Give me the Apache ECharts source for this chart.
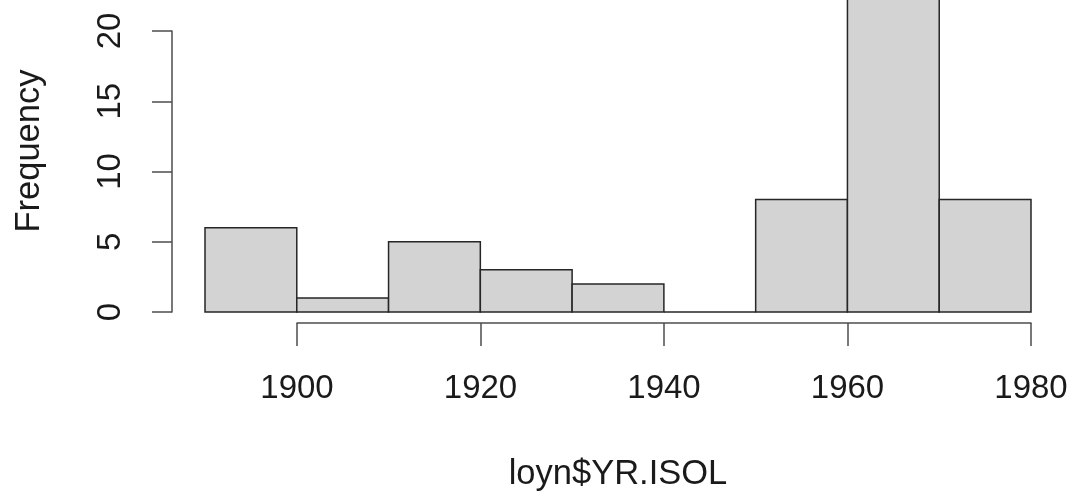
<!DOCTYPE html>
<html>
<head>
<meta charset="utf-8">
<title>loyn$YR.ISOL</title>
<script src="https://cdn.jsdelivr.net/npm/echarts@6/dist/echarts.min.js"></script>
<style>
  html, body { margin: 0; padding: 0; background: #fff; }
  #chart { width: 1076px; height: 497px; }
</style>
</head>
<body>
<div id="chart"></div>
<script>
  // histogram bins (10 year breaks) and their counts
  const binStart = [1890, 1900, 1910, 1920, 1930, 1940, 1950, 1960, 1970]
  const binEnd = [1900, 1910, 1920, 1930, 1940, 1950, 1960, 1970, 1980]
  const counts = [6, 1, 5, 3, 2, 0, 8, 23, 8]
  const xTicks = [1900, 1920, 1940, 1960, 1980]
  const yTicks = [0, 5, 10, 15, 20]

  const font = 'Liberation Sans, Arial, sans-serif'
  const textColor = '#1a1a1a'
  const axisColor = '#4d4d4d'

  let myChart = echarts.init(document.getElementById('chart'))
  let option = {
    animation: false,
    grid: [
      // bars
      { left: 205, right: 45, top: 31, bottom: 185 },
      // R-style axes, drawn only over the tick range
      { left: 297, right: 45, top: 31, bottom: 185 }
    ],
    xAxis: [
      { gridIndex: 0, type: 'value', min: 1890, max: 1980, show: false },
      {
        gridIndex: 1,
        type: 'value',
        min: xTicks[0],
        max: xTicks[xTicks.length - 1],
        interval: 20,
        offset: 11,
        axisLine: { show: true, onZero: false, lineStyle: { color: axisColor, width: 1.5 } },
        axisTick: { show: true, length: 23, lineStyle: { color: axisColor, width: 1.5 } },
        splitLine: { show: false },
        axisLabel: {
          color: textColor,
          fontSize: 33,
          fontFamily: font,
          margin: 49,
          formatter: (v) => String(v)
        }
      }
    ],
    yAxis: [
      { gridIndex: 0, type: 'value', min: 0, max: 20, show: false },
      {
        gridIndex: 1,
        type: 'value',
        min: yTicks[0],
        max: yTicks[yTicks.length - 1],
        interval: 5,
        offset: 125,
        axisLine: { show: true, onZero: false, lineStyle: { color: axisColor, width: 1.5 } },
        axisTick: { show: true, length: 20, lineStyle: { color: axisColor, width: 1.5 } },
        splitLine: { show: false },
        axisLabel: { color: textColor, fontSize: 33, fontFamily: font, rotate: 90, margin: 45 }
      }
    ],
    graphic: [
      {
        type: 'text',
        x: 618,
        y: 474,
        style: {
          text: 'loyn$YR.ISOL',
          fill: textColor,
          font: '34.5px ' + font,
          textAlign: 'center',
          textVerticalAlign: 'middle'
        }
      },
      {
        type: 'text',
        x: 29,
        y: 151,
        rotation: Math.PI / 2,
        style: {
          text: 'Frequency',
          fill: textColor,
          font: '34.5px ' + font,
          textAlign: 'center',
          textVerticalAlign: 'middle'
        }
      }
    ],
    series: [
      {
        type: 'custom',
        xAxisIndex: 0,
        yAxisIndex: 0,
        clip: false,
        data: binStart.map((s, i) => [s, binEnd[i], counts[i]]),
        renderItem (params, api) {
          let p0 = api.coord([api.value(0), api.value(2)])
          let p1 = api.coord([api.value(1), 0])
          return {
            type: 'rect',
            shape: { x: p0[0], y: p0[1], width: p1[0] - p0[0], height: p1[1] - p0[1] },
            style: { fill: '#d3d3d3', stroke: '#262626', lineWidth: 1.5 }
          }
        }
      }
    ]
  }
  myChart.setOption(option)
</script>
</body>
</html>
